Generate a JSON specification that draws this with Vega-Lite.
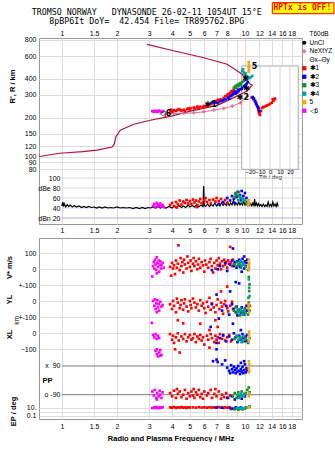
{
"$schema":"https://vega.github.io/schema/vega-lite/v6.json",
"background":"white",
"padding":{"left":4,"top":1,"right":0,"bottom":0},
"autosize":{"type":"pad"},
"title":{"text":["TROMSO NORWAY\u00a0\u00a0\u00a0DYNASONDE 26-02-11 1054UT 15°E","8pBP6It DoY=\u00a0\u00a042.454 File= TR895762.BPG"],"font":"DejaVu Sans Mono","fontSize":8.3,"fontWeight":"normal","color":"#000000","lineHeight":9,"anchor":"middle","offset":0,"dy":24,"dx":-23},
"spacing":14,
"bounds":"flush",
"datasets":{
"prof":[{"o":1,"f":0.75,"h":100},{"o":2,"f":0.975,"h":106},{"o":3,"f":1.3,"h":109},{"o":4,"f":1.555,"h":112},{"o":5,"f":1.88,"h":118.5},{"o":6,"f":1.93,"h":124},{"o":7,"f":1.95,"h":132},{"o":8,"f":1.97,"h":142},{"o":9,"f":2.085,"h":160},{"o":10,"f":2.47,"h":178},{"o":11,"f":3.04,"h":191},{"o":12,"f":3.91,"h":205},{"o":13,"f":5.04,"h":225},{"o":14,"f":7.05,"h":249},{"o":15,"f":8.7,"h":286},{"o":16,"f":10.3,"h":322},{"o":17,"f":10.96,"h":358},{"o":18,"f":10.7,"h":363},{"o":19,"f":9.67,"h":434},{"o":20,"f":8.0,"h":519},{"o":21,"f":5.96,"h":583},{"o":22,"f":3.91,"h":669},{"o":23,"f":2.92,"h":740}],
"nx":[{"f":3.68,"h":212},{"f":4.08,"h":216},{"f":4.63,"h":216},{"f":5.25,"h":218},{"f":5.96,"h":222},{"f":6.76,"h":229},{"f":7.67,"h":236},{"f":8.52,"h":246},{"f":9.46,"h":261},{"f":10.3,"h":294}],
"lb":[{"f":6.5,"h":250,"t":"✱1"},{"f":9.75,"h":286,"t":"✱2"},{"f":11.3,"h":496,"t":"5"},{"f":3.68,"h":214,"t":"◁6"},{"f":10.08,"h":399,"t":"✱"},{"f":10.2,"h":334,"t":"✱"}],
"hp":[{"s":"1","f":3.92,"h":225},{"s":"1","f":4.08,"h":228},{"s":"1","f":4.26,"h":229},{"s":"1","f":4.44,"h":230},{"s":"1","f":4.63,"h":230},{"s":"1","f":4.83,"h":233},{"s":"1","f":5.04,"h":237},{"s":"1","f":5.25,"h":240},{"s":"1","f":5.47,"h":240},{"s":"1","f":5.71,"h":243},{"s":"1","f":5.96,"h":246},{"s":"1","f":6.2,"h":250},{"s":"1","f":6.48,"h":255},{"s":"1","f":6.76,"h":263},{"s":"1","f":6.9,"h":269},{"s":"1","f":7.2,"h":266},{"s":"1","f":7.35,"h":277},{"s":"1","f":7.52,"h":269},{"s":"1","f":7.67,"h":285},{"s":"1","f":7.83,"h":294},{"s":"1","f":8.06,"h":304},{"s":"1","f":8.27,"h":309},{"s":"1","f":8.4,"h":318},{"s":"1","f":8.6,"h":313},{"s":"1","f":8.88,"h":308},{"s":"1","f":9.07,"h":322},{"s":"1","f":4.0,"h":222},{"s":"1","f":4.2,"h":226},{"s":"1","f":4.5,"h":227},{"s":"1","f":4.7,"h":226},{"s":"1","f":5.0,"h":232},{"s":"1","f":5.3,"h":236},{"s":"1","f":5.6,"h":237},{"s":"1","f":5.9,"h":240},{"s":"1","f":6.1,"h":244},{"s":"1","f":6.6,"h":258},{"s":"1","f":7.0,"h":262},{"s":"1","f":7.4,"h":272},{"s":"1","f":7.7,"h":280},{"s":"1","f":8.0,"h":296},{"s":"1","f":8.3,"h":300},{"s":"1","f":8.5,"h":322},{"s":"1","f":3.95,"h":230},{"s":"1","f":4.35,"h":233},{"s":"1","f":4.9,"h":236},{"s":"1","f":5.5,"h":244},{"s":"1","f":6.3,"h":253},{"s":"1","f":7.1,"h":275},{"s":"1","f":8.7,"h":330},{"s":"1","f":8.15,"h":290},
{"s":"2","f":6.9,"h":263},{"s":"2","f":7.11,"h":259},{"s":"2","f":7.35,"h":269},{"s":"2","f":7.83,"h":277},{"s":"2","f":8.06,"h":285},{"s":"2","f":8.34,"h":294},{"s":"2","f":8.6,"h":304},{"s":"2","f":8.88,"h":308},{"s":"2","f":9.07,"h":313},{"s":"2","f":9.26,"h":322},{"s":"2","f":9.46,"h":332},{"s":"2","f":9.66,"h":342},{"s":"2","f":9.88,"h":352},{"s":"2","f":10.08,"h":358},{"s":"2","f":10.2,"h":365},{"s":"2","f":10.35,"h":378},{"s":"2","f":6.6,"h":262},{"s":"2","f":7.6,"h":273},{"s":"2","f":8.2,"h":280},{"s":"2","f":8.5,"h":298},{"s":"2","f":9.2,"h":330},{"s":"2","f":9.6,"h":335},{"s":"2","f":10.0,"h":345},{"s":"2","f":8.8,"h":318},
{"s":"3","f":8.7,"h":342},{"s":"3","f":8.88,"h":352},{"s":"3","f":9.07,"h":358},{"s":"3","f":9.26,"h":365},{"s":"3","f":9.46,"h":371},{"s":"3","f":9.66,"h":378},{"s":"3","f":9.88,"h":386},{"s":"3","f":9.37,"h":358},{"s":"3","f":8.9,"h":340},{"s":"3","f":9.2,"h":350},{"s":"3","f":9.5,"h":362},
{"s":"4","f":9.66,"h":460},{"s":"4","f":9.88,"h":448},{"s":"4","f":9.96,"h":430},{"s":"4","f":10.2,"h":421},{"s":"4","f":10.35,"h":414},{"s":"4","f":10.73,"h":410},{"s":"4","f":10.96,"h":421},{"s":"4","f":9.77,"h":474},{"s":"4","f":10.1,"h":440},{"s":"4","f":10.5,"h":405},
{"s":"5","f":10.5,"h":540},{"s":"5","f":10.5,"h":515},{"s":"5","f":10.52,"h":490},{"s":"5","f":10.5,"h":470},{"s":"5","f":10.48,"h":455},
{"s":"6","f":3.12,"h":225},{"s":"6","f":3.17,"h":222},{"s":"6","f":3.22,"h":226},{"s":"6","f":3.27,"h":224},{"s":"6","f":3.33,"h":222},{"s":"6","f":3.38,"h":227},{"s":"6","f":3.45,"h":224},{"s":"6","f":3.5,"h":222},{"s":"6","f":3.58,"h":225}],
"tl":[{"s":"1","t":-18.3,"h":286},{"s":"1","t":-16.7,"h":278},{"s":"1","t":-15,"h":269},{"s":"1","t":-14,"h":256},{"s":"1","t":-12.7,"h":246},{"s":"1","t":-11.7,"h":232},{"s":"1","t":-11,"h":218},{"s":"1","t":-10,"h":210},{"s":"1","t":-9,"h":225},{"s":"1","t":-8,"h":238},{"s":"1","t":-6.7,"h":242},{"s":"1","t":-5,"h":244},{"s":"1","t":-3.3,"h":248},{"s":"1","t":-1.7,"h":251},{"s":"1","t":0,"h":256},{"s":"1","t":1.7,"h":261},{"s":"1","t":3.3,"h":269},{"s":"1","t":4.3,"h":278},{"s":"1","t":5,"h":281},{"s":"1","t":2.7,"h":278},{"s":"1","t":-10.5,"h":214},{"s":"1","t":-11.3,"h":225},
{"s":"2","t":-17.3,"h":289},{"s":"2","t":-16,"h":281},{"s":"2","t":-15,"h":269},{"s":"2","t":-14,"h":261},{"s":"2","t":-13.3,"h":251},{"s":"2","t":-12.3,"h":242},{"s":"2","t":-11.3,"h":238},{"s":"2","t":-10.7,"h":225}],
"am":[{"s":"6","f":3.15,"db":44},{"s":"6","f":3.2,"db":48},{"s":"6","f":3.25,"db":42},{"s":"6","f":3.3,"db":50},{"s":"6","f":3.35,"db":46},{"s":"6","f":3.4,"db":44},{"s":"6","f":3.45,"db":49},{"s":"6","f":3.5,"db":43},{"s":"6","f":3.55,"db":46},{"s":"6","f":3.6,"db":42},
{"s":"1","f":3.9,"db":46},{"s":"1","f":4.0,"db":50},{"s":"1","f":4.1,"db":44},{"s":"1","f":4.2,"db":52},{"s":"1","f":4.3,"db":48},{"s":"1","f":4.4,"db":55},{"s":"1","f":4.5,"db":47},{"s":"1","f":4.6,"db":53},{"s":"1","f":4.7,"db":50},{"s":"1","f":4.8,"db":56},{"s":"1","f":4.9,"db":49},{"s":"1","f":5.0,"db":54},{"s":"1","f":5.1,"db":48},{"s":"1","f":5.2,"db":57},{"s":"1","f":5.3,"db":51},{"s":"1","f":5.4,"db":55},{"s":"1","f":5.5,"db":46},{"s":"1","f":5.6,"db":53},{"s":"1","f":5.7,"db":58},{"s":"1","f":5.8,"db":50},{"s":"1","f":6.0,"db":55},{"s":"1","f":6.1,"db":60},{"s":"1","f":6.2,"db":52},{"s":"1","f":6.4,"db":56},{"s":"1","f":6.5,"db":49},{"s":"1","f":6.7,"db":57},{"s":"1","f":6.9,"db":53},{"s":"1","f":7.0,"db":60},{"s":"1","f":7.2,"db":54},{"s":"1","f":7.4,"db":58},{"s":"1","f":7.6,"db":51},{"s":"1","f":7.8,"db":56},{"s":"1","f":8.0,"db":50},{"s":"1","f":5.45,"db":42},{"s":"1","f":4.25,"db":41},
{"s":"2","f":7.2,"db":48},{"s":"2","f":7.6,"db":52},{"s":"2","f":8.0,"db":60},{"s":"2","f":8.3,"db":55},{"s":"2","f":8.5,"db":64},{"s":"2","f":8.7,"db":58},{"s":"2","f":8.9,"db":68},{"s":"2","f":9.0,"db":62},{"s":"2","f":9.2,"db":72},{"s":"2","f":9.4,"db":66},{"s":"2","f":9.6,"db":74},{"s":"2","f":9.8,"db":64},{"s":"2","f":10.0,"db":70},{"s":"2","f":10.2,"db":60},{"s":"2","f":9.5,"db":56},{"s":"2","f":10.3,"db":52},{"s":"2","f":8.8,"db":50},
{"s":"3","f":8.8,"db":62},{"s":"3","f":8.9,"db":70},{"s":"3","f":9.0,"db":66},{"s":"3","f":9.1,"db":72},{"s":"3","f":9.3,"db":64},{"s":"3","f":9.5,"db":60},{"s":"3","f":9.7,"db":58},
{"s":"4","f":9.2,"db":56},{"s":"4","f":9.4,"db":62},{"s":"4","f":9.6,"db":52},{"s":"4","f":9.8,"db":58},{"s":"4","f":10.0,"db":55},{"s":"4","f":10.2,"db":50},{"s":"4","f":10.4,"db":48},
{"s":"5","f":10.4,"db":46},{"s":"5","f":10.45,"db":52},{"s":"5","f":10.5,"db":56},{"s":"5","f":10.55,"db":48}],
"tr":[{"f":1.0,"db":44},{"f":1.01,"db":52},{"f":1.02,"db":43},{"f":1.03,"db":49},{"f":1.05,"db":42},{"f":1.07,"db":47},{"f":1.09,"db":43},{"f":1.11,"db":46},{"f":1.14,"db":42},{"f":1.17,"db":45},{"f":1.2,"db":42},{"f":1.24,"db":44},{"f":1.28,"db":41},{"f":1.32,"db":43},{"f":1.36,"db":41},{"f":1.4,"db":43},{"f":1.45,"db":41},{"f":1.5,"db":42},{"f":1.55,"db":40},{"f":1.6,"db":42},{"f":1.66,"db":40},{"f":1.72,"db":42},{"f":1.78,"db":40},{"f":1.85,"db":41},{"f":1.92,"db":40},{"f":2.0,"db":42},{"f":2.08,"db":40},{"f":2.16,"db":41},{"f":2.25,"db":40},{"f":2.35,"db":41},{"f":2.45,"db":39},{"f":2.55,"db":41},{"f":2.65,"db":39},{"f":2.75,"db":41},{"f":2.85,"db":39},{"f":2.95,"db":41},{"f":3.05,"db":40},{"f":3.15,"db":42},{"f":3.25,"db":40},{"f":3.35,"db":43},{"f":3.45,"db":40},{"f":3.55,"db":42},{"f":3.7,"db":40},{"f":3.85,"db":43},{"f":4.0,"db":40},{"f":4.1,"db":44},{"f":4.2,"db":41},{"f":4.35,"db":45},{"f":4.5,"db":41},{"f":4.6,"db":44},{"f":4.75,"db":41},{"f":4.9,"db":46},{"f":5.0,"db":42},{"f":5.15,"db":45},{"f":5.3,"db":42},{"f":5.45,"db":47},{"f":5.6,"db":42},{"f":5.75,"db":46},{"f":5.9,"db":43},{"f":5.95,"db":84},{"f":6.0,"db":45},{"f":6.1,"db":43},{"f":6.25,"db":48},{"f":6.4,"db":43},{"f":6.55,"db":47},{"f":6.7,"db":44},{"f":6.85,"db":50},{"f":7.0,"db":44},{"f":7.15,"db":48},{"f":7.3,"db":44},{"f":7.45,"db":51},{"f":7.6,"db":45},{"f":7.75,"db":49},{"f":7.9,"db":45},{"f":8.05,"db":52},{"f":8.2,"db":45},{"f":8.35,"db":50},{"f":8.5,"db":46},{"f":8.65,"db":55},{"f":8.8,"db":46},{"f":8.95,"db":50},{"f":9.1,"db":46},{"f":9.25,"db":52},{"f":9.4,"db":46},{"f":9.55,"db":50},{"f":9.7,"db":46},{"f":9.85,"db":53},{"f":10.0,"db":46},{"f":10.15,"db":50},{"f":10.3,"db":45},{"f":10.45,"db":51},{"f":10.6,"db":45},{"f":10.75,"db":49},{"f":10.9,"db":44},{"f":11.05,"db":50},{"f":11.2,"db":45},{"f":11.3,"db":58},{"f":11.4,"db":44},{"f":11.55,"db":50},{"f":11.7,"db":44},{"f":11.85,"db":49},{"f":12.0,"db":44},{"f":12.2,"db":47},{"f":12.4,"db":43},{"f":12.6,"db":48},{"f":12.8,"db":43},{"f":13.0,"db":46},{"f":13.2,"db":43},{"f":13.4,"db":52},{"f":13.6,"db":43},{"f":13.8,"db":47},{"f":14.0,"db":43},{"f":14.2,"db":52},{"f":14.4,"db":44},{"f":14.6,"db":48},{"f":14.8,"db":43},{"f":15.0,"db":50},{"f":15.2,"db":43}],
"bt":[
{"b":"V","s":"6","f":3.12,"v":-45},{"b":"V","s":"6","f":3.15,"v":20},{"b":"V","s":"6","f":3.18,"v":45},{"b":"V","s":"6","f":3.2,"v":5},{"b":"V","s":"6","f":3.22,"v":60},{"b":"V","s":"6","f":3.25,"v":30},{"b":"V","s":"6","f":3.28,"v":-5},{"b":"V","s":"6","f":3.3,"v":75},{"b":"V","s":"6","f":3.32,"v":40},{"b":"V","s":"6","f":3.35,"v":15},{"b":"V","s":"6","f":3.38,"v":55},{"b":"V","s":"6","f":3.4,"v":-15},{"b":"V","s":"6","f":3.42,"v":30},{"b":"V","s":"6","f":3.45,"v":50},{"b":"V","s":"6","f":3.48,"v":5},{"b":"V","s":"6","f":3.5,"v":25},{"b":"V","s":"6","f":3.55,"v":40},{"b":"V","s":"6","f":3.6,"v":10},{"b":"V","s":"6","f":3.3,"v":-25},
{"b":"V","s":"1","f":3.9,"v":15},{"b":"V","s":"1","f":3.95,"v":-40},{"b":"V","s":"1","f":4.0,"v":40},{"b":"V","s":"1","f":4.05,"v":5},{"b":"V","s":"1","f":4.1,"v":25},{"b":"V","s":"1","f":4.15,"v":-30},{"b":"V","s":"1","f":4.2,"v":55},{"b":"V","s":"1","f":4.25,"v":10},{"b":"V","s":"1","f":4.33,"v":150},{"b":"V","s":"1","f":4.3,"v":35},{"b":"V","s":"1","f":4.4,"v":-5},{"b":"V","s":"1","f":4.45,"v":70},{"b":"V","s":"1","f":4.5,"v":20},{"b":"V","s":"1","f":4.55,"v":45},{"b":"V","s":"1","f":4.6,"v":-20},{"b":"V","s":"1","f":4.65,"v":60},{"b":"V","s":"1","f":4.7,"v":30},{"b":"V","s":"1","f":4.8,"v":5},{"b":"V","s":"1","f":4.85,"v":80},{"b":"V","s":"1","f":4.9,"v":40},{"b":"V","s":"1","f":5.0,"v":15},{"b":"V","s":"1","f":5.05,"v":55},{"b":"V","s":"1","f":5.1,"v":-10},{"b":"V","s":"1","f":5.2,"v":35},{"b":"V","s":"1","f":5.25,"v":70},{"b":"V","s":"1","f":5.3,"v":20},{"b":"V","s":"1","f":5.4,"v":50},{"b":"V","s":"1","f":5.5,"v":0},{"b":"V","s":"1","f":5.55,"v":30},{"b":"V","s":"1","f":5.6,"v":65},{"b":"V","s":"1","f":5.7,"v":10},{"b":"V","s":"1","f":5.8,"v":45},{"b":"V","s":"1","f":5.9,"v":25},{"b":"V","s":"1","f":6.0,"v":-15},{"b":"V","s":"1","f":6.05,"v":55},{"b":"V","s":"1","f":6.15,"v":30},{"b":"V","s":"1","f":6.3,"v":10},{"b":"V","s":"1","f":6.4,"v":45},{"b":"V","s":"1","f":6.5,"v":65},{"b":"V","s":"1","f":6.6,"v":20},{"b":"V","s":"1","f":6.7,"v":-20},{"b":"V","s":"1","f":6.8,"v":40},{"b":"V","s":"1","f":6.9,"v":5},{"b":"V","s":"1","f":7.0,"v":55},{"b":"V","s":"1","f":7.1,"v":25},{"b":"V","s":"1","f":7.2,"v":70},{"b":"V","s":"1","f":7.3,"v":35},{"b":"V","s":"1","f":7.4,"v":0},{"b":"V","s":"1","f":7.5,"v":50},{"b":"V","s":"1","f":7.6,"v":20},{"b":"V","s":"1","f":7.7,"v":60},{"b":"V","s":"1","f":7.8,"v":30},{"b":"V","s":"1","f":7.9,"v":45},{"b":"V","s":"1","f":8.0,"v":10},{"b":"V","s":"1","f":8.1,"v":55},{"b":"V","s":"1","f":8.2,"v":35},{"b":"V","s":"1","f":8.3,"v":140},{"b":"V","s":"1","f":8.4,"v":45},{"b":"V","s":"1","f":8.5,"v":20},{"b":"V","s":"1","f":8.6,"v":60},{"b":"V","s":"1","f":8.7,"v":30},
{"b":"V","s":"2","f":6.6,"v":-5},{"b":"V","s":"2","f":7.1,"v":0},{"b":"V","s":"2","f":7.3,"v":20},{"b":"V","s":"2","f":7.8,"v":40},{"b":"V","s":"2","f":8.0,"v":-10},{"b":"V","s":"2","f":8.3,"v":30},{"b":"V","s":"2","f":8.5,"v":55},{"b":"V","s":"2","f":8.7,"v":20},{"b":"V","s":"2","f":8.8,"v":45},{"b":"V","s":"2","f":8.9,"v":-80},{"b":"V","s":"2","f":9.0,"v":10},{"b":"V","s":"2","f":9.1,"v":50},{"b":"V","s":"2","f":9.2,"v":30},{"b":"V","s":"2","f":9.3,"v":60},{"b":"V","s":"2","f":9.4,"v":15},{"b":"V","s":"2","f":9.5,"v":45},{"b":"V","s":"2","f":9.6,"v":25},{"b":"V","s":"2","f":9.7,"v":65},{"b":"V","s":"2","f":9.8,"v":35},{"b":"V","s":"2","f":9.9,"v":5},{"b":"V","s":"2","f":10.0,"v":50},{"b":"V","s":"2","f":10.1,"v":20},{"b":"V","s":"2","f":10.2,"v":40},{"b":"V","s":"2","f":10.3,"v":60},{"b":"V","s":"2","f":9.6,"v":-15},{"b":"V","s":"2","f":9.9,"v":80},{"b":"V","s":"2","f":8.6,"v":130},
{"b":"V","s":"3","f":8.8,"v":30},{"b":"V","s":"3","f":9.0,"v":45},{"b":"V","s":"3","f":9.1,"v":20},{"b":"V","s":"3","f":9.3,"v":40},{"b":"V","s":"3","f":9.5,"v":10},{"b":"V","s":"3","f":9.8,"v":30},{"b":"V","s":"3","f":10.4,"v":-5},
{"b":"V","s":"4","f":9.2,"v":35},{"b":"V","s":"4","f":9.4,"v":50},{"b":"V","s":"4","f":9.6,"v":25},{"b":"V","s":"4","f":9.7,"v":45},{"b":"V","s":"4","f":9.9,"v":30},{"b":"V","s":"4","f":10.1,"v":15},
{"b":"V","s":"5","f":10.5,"v":0},{"b":"V","s":"5","f":10.5,"v":20},{"b":"V","s":"5","f":10.55,"v":40},{"b":"V","s":"5","f":10.5,"v":60},{"b":"V","s":"5","f":10.55,"v":10},{"b":"V","s":"5","f":10.5,"v":30},
{"b":"Y","s":"6","f":3.15,"v":0},{"b":"Y","s":"6","f":3.2,"v":-30},{"b":"Y","s":"6","f":3.22,"v":10},{"b":"Y","s":"6","f":3.25,"v":-50},{"b":"Y","s":"6","f":3.28,"v":-15},{"b":"Y","s":"6","f":3.3,"v":-70},{"b":"Y","s":"6","f":3.32,"v":5},{"b":"Y","s":"6","f":3.35,"v":-40},{"b":"Y","s":"6","f":3.38,"v":-20},{"b":"Y","s":"6","f":3.4,"v":-60},{"b":"Y","s":"6","f":3.45,"v":-5},{"b":"Y","s":"6","f":3.5,"v":-35},{"b":"Y","s":"6","f":3.55,"v":-25},
{"b":"Y","s":"1","f":3.9,"v":-20},{"b":"Y","s":"1","f":4.0,"v":-50},{"b":"Y","s":"1","f":4.05,"v":0},{"b":"Y","s":"1","f":4.1,"v":-30},{"b":"Y","s":"1","f":4.2,"v":-70},{"b":"Y","s":"1","f":4.25,"v":15},{"b":"Y","s":"1","f":4.3,"v":-10},{"b":"Y","s":"1","f":4.4,"v":-45},{"b":"Y","s":"1","f":4.45,"v":-25},{"b":"Y","s":"1","f":4.5,"v":5},{"b":"Y","s":"1","f":4.6,"v":-55},{"b":"Y","s":"1","f":4.65,"v":-15},{"b":"Y","s":"1","f":4.7,"v":10},{"b":"Y","s":"1","f":4.8,"v":-35},{"b":"Y","s":"1","f":4.9,"v":-65},{"b":"Y","s":"1","f":5.0,"v":0},{"b":"Y","s":"1","f":5.05,"v":-25},{"b":"Y","s":"1","f":5.1,"v":-45},{"b":"Y","s":"1","f":5.2,"v":15},{"b":"Y","s":"1","f":5.3,"v":-10},{"b":"Y","s":"1","f":5.4,"v":-40},{"b":"Y","s":"1","f":5.5,"v":-20},{"b":"Y","s":"1","f":5.6,"v":-60},{"b":"Y","s":"1","f":5.7,"v":5},{"b":"Y","s":"1","f":5.8,"v":-30},{"b":"Y","s":"1","f":5.9,"v":-15},{"b":"Y","s":"1","f":6.0,"v":-45},{"b":"Y","s":"1","f":6.1,"v":-75},{"b":"Y","s":"1","f":4.3,"v":-120},{"b":"Y","s":"1","f":4.6,"v":-140},{"b":"Y","s":"1","f":6.2,"v":-5},{"b":"Y","s":"1","f":6.3,"v":-35},{"b":"Y","s":"1","f":6.4,"v":20},{"b":"Y","s":"1","f":6.5,"v":-55},{"b":"Y","s":"1","f":6.6,"v":-15},{"b":"Y","s":"1","f":6.75,"v":-40},{"b":"Y","s":"1","f":6.9,"v":-70},{"b":"Y","s":"1","f":7.0,"v":-25},{"b":"Y","s":"1","f":7.1,"v":10},{"b":"Y","s":"1","f":7.25,"v":-50},{"b":"Y","s":"1","f":7.4,"v":-10},{"b":"Y","s":"1","f":7.5,"v":-35},{"b":"Y","s":"1","f":7.6,"v":-80},{"b":"Y","s":"1","f":7.7,"v":-20},{"b":"Y","s":"1","f":7.8,"v":0},{"b":"Y","s":"1","f":8.0,"v":-45},{"b":"Y","s":"1","f":8.1,"v":-65},{"b":"Y","s":"1","f":8.3,"v":-30},{"b":"Y","s":"1","f":8.5,"v":-5},{"b":"Y","s":"1","f":8.6,"v":-50},{"b":"Y","s":"1","f":6.9,"v":-120},{"b":"Y","s":"1","f":7.4,"v":60},{"b":"Y","s":"1","f":8.0,"v":90},
{"b":"Y","s":"2","f":6.6,"v":-20},{"b":"Y","s":"2","f":7.0,"v":40},{"b":"Y","s":"2","f":7.2,"v":-110},{"b":"Y","s":"2","f":7.5,"v":-60},{"b":"Y","s":"2","f":7.9,"v":-30},{"b":"Y","s":"2","f":8.2,"v":-85},{"b":"Y","s":"2","f":8.5,"v":-20},{"b":"Y","s":"2","f":8.7,"v":-50},{"b":"Y","s":"2","f":8.9,"v":-70},{"b":"Y","s":"2","f":9.0,"v":-35},{"b":"Y","s":"2","f":9.1,"v":-90},{"b":"Y","s":"2","f":9.3,"v":-55},{"b":"Y","s":"2","f":9.5,"v":-75},{"b":"Y","s":"2","f":9.6,"v":-40},{"b":"Y","s":"2","f":9.8,"v":-65},{"b":"Y","s":"2","f":9.9,"v":-85},{"b":"Y","s":"2","f":10.0,"v":-50},{"b":"Y","s":"2","f":10.1,"v":-70},{"b":"Y","s":"2","f":10.2,"v":-30},{"b":"Y","s":"2","f":10.3,"v":-60},{"b":"Y","s":"2","f":9.3,"v":110},{"b":"Y","s":"2","f":8.3,"v":60},
{"b":"Y","s":"3","f":8.7,"v":-60},{"b":"Y","s":"3","f":8.9,"v":-40},{"b":"Y","s":"3","f":9.0,"v":-75},{"b":"Y","s":"3","f":9.2,"v":-55},{"b":"Y","s":"3","f":9.4,"v":-90},{"b":"Y","s":"3","f":9.6,"v":-65},{"b":"Y","s":"3","f":9.8,"v":-80},{"b":"Y","s":"3","f":10.0,"v":-45},{"b":"Y","s":"3","f":10.4,"v":-85},{"b":"Y","s":"3","f":10.5,"v":150},{"b":"Y","s":"3","f":10.6,"v":104},{"b":"Y","s":"3","f":10.55,"v":62},{"b":"Y","s":"3","f":10.5,"v":-10},{"b":"Y","s":"3","f":10.6,"v":-60},{"b":"Y","s":"3","f":10.65,"v":-30},{"b":"Y","s":"3","f":10.45,"v":20},
{"b":"Y","s":"4","f":9.1,"v":-60},{"b":"Y","s":"4","f":9.3,"v":-70},{"b":"Y","s":"4","f":9.5,"v":-50},{"b":"Y","s":"4","f":9.7,"v":-85},{"b":"Y","s":"4","f":9.9,"v":-60},{"b":"Y","s":"4","f":10.1,"v":-75},{"b":"Y","s":"4","f":10.5,"v":135},{"b":"Y","s":"4","f":10.55,"v":83},{"b":"Y","s":"4","f":10.6,"v":31},{"b":"Y","s":"4","f":10.5,"v":-40},
{"b":"Y","s":"5","f":10.5,"v":-20},{"b":"Y","s":"5","f":10.5,"v":-50},{"b":"Y","s":"5","f":10.55,"v":-70},{"b":"Y","s":"5","f":10.5,"v":-35},
{"b":"X","s":"6","f":3.1,"v":65},{"b":"X","s":"6","f":3.15,"v":-10},{"b":"X","s":"6","f":3.2,"v":-25},{"b":"X","s":"6","f":3.25,"v":-5},{"b":"X","s":"6","f":3.3,"v":-35},{"b":"X","s":"6","f":3.35,"v":-15},{"b":"X","s":"6","f":3.4,"v":-30},{"b":"X","s":"6","f":3.25,"v":-110},{"b":"X","s":"6","f":3.3,"v":-130},{"b":"X","s":"6","f":3.35,"v":-145},{"b":"X","s":"6","f":3.4,"v":-120},{"b":"X","s":"6","f":3.45,"v":-105},{"b":"X","s":"6","f":3.3,"v":-100},{"b":"X","s":"6","f":3.5,"v":-135},{"b":"X","s":"6","f":3.45,"v":-140},
{"b":"X","s":"1","f":3.9,"v":-5},{"b":"X","s":"1","f":4.0,"v":-40},{"b":"X","s":"1","f":4.05,"v":-15},{"b":"X","s":"1","f":4.1,"v":-60},{"b":"X","s":"1","f":4.15,"v":-100},{"b":"X","s":"1","f":4.2,"v":-25},{"b":"X","s":"1","f":4.3,"v":0},{"b":"X","s":"1","f":4.35,"v":-45},{"b":"X","s":"1","f":4.4,"v":-120},{"b":"X","s":"1","f":4.5,"v":-20},{"b":"X","s":"1","f":4.6,"v":-35},{"b":"X","s":"1","f":4.7,"v":-5},{"b":"X","s":"1","f":4.8,"v":-50},{"b":"X","s":"1","f":4.9,"v":-25},{"b":"X","s":"1","f":5.0,"v":-10},{"b":"X","s":"1","f":5.1,"v":-40},{"b":"X","s":"1","f":5.2,"v":-30},{"b":"X","s":"1","f":5.3,"v":-5},{"b":"X","s":"1","f":5.4,"v":-55},{"b":"X","s":"1","f":5.5,"v":-20},{"b":"X","s":"1","f":5.6,"v":-35},{"b":"X","s":"1","f":5.7,"v":-10},{"b":"X","s":"1","f":5.8,"v":-45},{"b":"X","s":"1","f":5.9,"v":-25},{"b":"X","s":"1","f":6.0,"v":-70},{"b":"X","s":"1","f":6.2,"v":-15},{"b":"X","s":"1","f":6.3,"v":-40},{"b":"X","s":"1","f":6.4,"v":-90},{"b":"X","s":"1","f":6.5,"v":-5},{"b":"X","s":"1","f":6.6,"v":-30},{"b":"X","s":"1","f":6.8,"v":-55},{"b":"X","s":"1","f":6.9,"v":-15},{"b":"X","s":"1","f":7.0,"v":-40},{"b":"X","s":"1","f":7.1,"v":-25},{"b":"X","s":"1","f":7.2,"v":-60},{"b":"X","s":"1","f":7.3,"v":-5},{"b":"X","s":"1","f":7.5,"v":-35},{"b":"X","s":"1","f":7.6,"v":-15},{"b":"X","s":"1","f":7.8,"v":-45},{"b":"X","s":"1","f":8.0,"v":-25},{"b":"X","s":"1","f":8.2,"v":-10},{"b":"X","s":"1","f":8.4,"v":-50},{"b":"X","s":"1","f":6.4,"v":20},{"b":"X","s":"1","f":7.1,"v":40},{"b":"X","s":"1","f":5.7,"v":60},
{"b":"X","s":"2","f":6.5,"v":40},{"b":"X","s":"2","f":7.0,"v":-60},{"b":"X","s":"2","f":7.3,"v":-30},{"b":"X","s":"2","f":7.6,"v":-10},{"b":"X","s":"2","f":7.9,"v":-50},{"b":"X","s":"2","f":8.2,"v":-20},{"b":"X","s":"2","f":8.5,"v":-40},{"b":"X","s":"2","f":8.7,"v":0},{"b":"X","s":"2","f":8.9,"v":-25},{"b":"X","s":"2","f":9.1,"v":-55},{"b":"X","s":"2","f":9.3,"v":-15},{"b":"X","s":"2","f":9.5,"v":-40},{"b":"X","s":"2","f":9.7,"v":-5},{"b":"X","s":"2","f":9.8,"v":-30},{"b":"X","s":"2","f":10.0,"v":-50},{"b":"X","s":"2","f":10.1,"v":-20},{"b":"X","s":"2","f":10.2,"v":-45},{"b":"X","s":"2","f":10.3,"v":-10},{"b":"X","s":"2","f":8.6,"v":60},{"b":"X","s":"2","f":9.5,"v":20},{"b":"X","s":"2","f":7.0,"v":-100},
{"b":"X","s":"3","f":8.8,"v":-35},{"b":"X","s":"3","f":9.0,"v":-15},{"b":"X","s":"3","f":9.2,"v":-45},{"b":"X","s":"3","f":9.4,"v":-25},{"b":"X","s":"3","f":9.6,"v":-55},{"b":"X","s":"3","f":9.8,"v":-20},{"b":"X","s":"3","f":10.0,"v":-40},{"b":"X","s":"3","f":10.4,"v":-60},{"b":"X","s":"3","f":10.6,"v":-30},
{"b":"X","s":"4","f":9.1,"v":-20},{"b":"X","s":"4","f":9.3,"v":-40},{"b":"X","s":"4","f":9.5,"v":-30},{"b":"X","s":"4","f":9.7,"v":-50},{"b":"X","s":"4","f":9.9,"v":-15},{"b":"X","s":"4","f":10.1,"v":-35},
{"b":"X","s":"5","f":10.5,"v":-10},{"b":"X","s":"5","f":10.5,"v":-30},{"b":"X","s":"5","f":10.55,"v":10},{"b":"X","s":"5","f":10.5,"v":-50},
{"b":"P","s":"2","f":6.7,"v":120},{"b":"P","s":"2","f":7.0,"v":130},{"b":"P","s":"2","f":7.1,"v":115},{"b":"P","s":"2","f":7.5,"v":100},{"b":"P","s":"2","f":7.8,"v":125},{"b":"P","s":"2","f":8.0,"v":80},{"b":"P","s":"2","f":8.2,"v":60},{"b":"P","s":"2","f":8.4,"v":95},{"b":"P","s":"2","f":8.5,"v":70},{"b":"P","s":"2","f":8.6,"v":50},{"b":"P","s":"2","f":8.7,"v":85},{"b":"P","s":"2","f":8.8,"v":65},{"b":"P","s":"2","f":8.9,"v":45},{"b":"P","s":"2","f":9.0,"v":75},{"b":"P","s":"2","f":9.1,"v":55},{"b":"P","s":"2","f":9.2,"v":90},{"b":"P","s":"2","f":9.3,"v":60},{"b":"P","s":"2","f":9.4,"v":40},{"b":"P","s":"2","f":9.5,"v":70},{"b":"P","s":"2","f":9.6,"v":55},{"b":"P","s":"2","f":9.7,"v":85},{"b":"P","s":"2","f":9.8,"v":45},{"b":"P","s":"2","f":9.9,"v":65},{"b":"P","s":"2","f":10.0,"v":100},{"b":"P","s":"2","f":10.1,"v":50},{"b":"P","s":"2","f":10.2,"v":75},{"b":"P","s":"2","f":10.3,"v":60},{"b":"P","s":"2","f":9.5,"v":110},{"b":"P","s":"2","f":9.9,"v":120},{"b":"P","s":"2","f":8.3,"v":45},
{"b":"P","s":"5","f":10.5,"v":50},{"b":"P","s":"5","f":10.5,"v":75},{"b":"P","s":"5","f":10.55,"v":100},{"b":"P","s":"5","f":10.5,"v":120},{"b":"P","s":"5","f":10.55,"v":60},
{"b":"P","s":"6","f":3.12,"v":-70},{"b":"P","s":"6","f":3.18,"v":-95},{"b":"P","s":"6","f":3.22,"v":-60},{"b":"P","s":"6","f":3.28,"v":-110},{"b":"P","s":"6","f":3.32,"v":-80},{"b":"P","s":"6","f":3.38,"v":-100},{"b":"P","s":"6","f":3.42,"v":-65},{"b":"P","s":"6","f":3.45,"v":-90},{"b":"P","s":"6","f":3.5,"v":-110},{"b":"P","s":"6","f":3.55,"v":-75},{"b":"P","s":"6","f":3.3,"v":-120},
{"b":"P","s":"1","f":3.9,"v":-80},{"b":"P","s":"1","f":4.0,"v":-100},{"b":"P","s":"1","f":4.1,"v":-65},{"b":"P","s":"1","f":4.2,"v":-110},{"b":"P","s":"1","f":4.3,"v":-85},{"b":"P","s":"1","f":4.4,"v":-70},{"b":"P","s":"1","f":4.5,"v":-105},{"b":"P","s":"1","f":4.6,"v":-90},{"b":"P","s":"1","f":4.7,"v":-60},{"b":"P","s":"1","f":4.8,"v":-115},{"b":"P","s":"1","f":4.9,"v":-80},{"b":"P","s":"1","f":5.0,"v":-100},{"b":"P","s":"1","f":5.1,"v":-70},{"b":"P","s":"1","f":5.2,"v":-95},{"b":"P","s":"1","f":5.3,"v":-110},{"b":"P","s":"1","f":5.4,"v":-75},{"b":"P","s":"1","f":5.5,"v":-90},{"b":"P","s":"1","f":5.6,"v":-60},{"b":"P","s":"1","f":5.7,"v":-105},{"b":"P","s":"1","f":5.8,"v":-85},{"b":"P","s":"1","f":5.9,"v":-115},{"b":"P","s":"1","f":6.0,"v":-70},{"b":"P","s":"1","f":6.2,"v":-95},{"b":"P","s":"1","f":6.3,"v":-80},{"b":"P","s":"1","f":6.5,"v":-60},{"b":"P","s":"1","f":6.6,"v":-110},{"b":"P","s":"1","f":6.8,"v":-85},{"b":"P","s":"1","f":7.0,"v":-100},{"b":"P","s":"1","f":7.2,"v":-70},{"b":"P","s":"1","f":7.4,"v":-115},{"b":"P","s":"1","f":7.5,"v":-90},{"b":"P","s":"1","f":7.7,"v":-105},{"b":"P","s":"1","f":7.9,"v":-80},{"b":"P","s":"1","f":8.1,"v":-110},{"b":"P","s":"1","f":8.3,"v":-95},{"b":"P","s":"1","f":4.25,"v":-55},{"b":"P","s":"1","f":5.25,"v":-55},{"b":"P","s":"1","f":6.9,"v":-55},
{"b":"P","s":"2","f":8.0,"v":-110},{"b":"P","s":"2","f":8.5,"v":-100},{"b":"P","s":"2","f":8.8,"v":-120},{"b":"P","s":"2","f":9.2,"v":-105},{"b":"P","s":"2","f":9.6,"v":-115},{"b":"P","s":"2","f":10.0,"v":-100},
{"b":"P","s":"3","f":8.6,"v":-100},{"b":"P","s":"3","f":8.8,"v":-80},{"b":"P","s":"3","f":9.0,"v":-110},{"b":"P","s":"3","f":9.2,"v":-75},{"b":"P","s":"3","f":9.4,"v":-95},{"b":"P","s":"3","f":9.6,"v":-70},{"b":"P","s":"3","f":9.9,"v":-85},{"b":"P","s":"3","f":10.3,"v":-60},{"b":"P","s":"3","f":10.5,"v":-45},{"b":"P","s":"3","f":10.6,"v":-75},
{"b":"P","s":"4","f":9.1,"v":-90},{"b":"P","s":"4","f":9.3,"v":-110},{"b":"P","s":"4","f":9.5,"v":-85},{"b":"P","s":"4","f":9.7,"v":-100},{"b":"P","s":"4","f":9.9,"v":-95},{"b":"P","s":"4","f":10.1,"v":-80},
{"b":"P","s":"5","f":10.5,"v":-100},{"b":"P","s":"5","f":10.5,"v":-80},
{"b":"E","s":"6","f":3.12,"v":8},{"b":"E","s":"6","f":3.2,"v":12},{"b":"E","s":"6","f":3.25,"v":9},{"b":"E","s":"6","f":3.3,"v":15},{"b":"E","s":"6","f":3.35,"v":10},{"b":"E","s":"6","f":3.4,"v":8},{"b":"E","s":"6","f":3.45,"v":12},{"b":"E","s":"6","f":3.5,"v":10},{"b":"E","s":"6","f":3.55,"v":14},
{"b":"E","s":"1","f":3.9,"v":12},{"b":"E","s":"1","f":4.0,"v":10},{"b":"E","s":"1","f":4.1,"v":15},{"b":"E","s":"1","f":4.2,"v":9},{"b":"E","s":"1","f":4.3,"v":12},{"b":"E","s":"1","f":4.4,"v":11},{"b":"E","s":"1","f":4.5,"v":14},{"b":"E","s":"1","f":4.6,"v":10},{"b":"E","s":"1","f":4.7,"v":12},{"b":"E","s":"1","f":4.8,"v":9},{"b":"E","s":"1","f":4.9,"v":13},{"b":"E","s":"1","f":5.0,"v":11},{"b":"E","s":"1","f":5.2,"v":12},{"b":"E","s":"1","f":5.4,"v":10},{"b":"E","s":"1","f":5.6,"v":14},{"b":"E","s":"1","f":5.8,"v":11},{"b":"E","s":"1","f":6.0,"v":12},{"b":"E","s":"1","f":6.2,"v":10},{"b":"E","s":"1","f":6.4,"v":13},{"b":"E","s":"1","f":6.6,"v":11},{"b":"E","s":"1","f":6.8,"v":12},{"b":"E","s":"1","f":7.0,"v":10},{"b":"E","s":"1","f":7.2,"v":14},{"b":"E","s":"1","f":7.4,"v":11},{"b":"E","s":"1","f":7.6,"v":9},{"b":"E","s":"1","f":7.8,"v":12},{"b":"E","s":"1","f":8.0,"v":10},{"b":"E","s":"1","f":8.2,"v":13},{"b":"E","s":"1","f":8.4,"v":5},
{"b":"E","s":"2","f":7.0,"v":12},{"b":"E","s":"2","f":7.5,"v":10},{"b":"E","s":"2","f":8.3,"v":9},{"b":"E","s":"2","f":8.6,"v":6},{"b":"E","s":"2","f":8.9,"v":12},{"b":"E","s":"2","f":9.2,"v":8},{"b":"E","s":"2","f":9.5,"v":11},{"b":"E","s":"2","f":9.8,"v":7},{"b":"E","s":"2","f":10.1,"v":10},
{"b":"E","s":"3","f":8.8,"v":4},{"b":"E","s":"3","f":9.0,"v":6},{"b":"E","s":"3","f":9.2,"v":3},{"b":"E","s":"3","f":9.4,"v":5},{"b":"E","s":"3","f":9.7,"v":4},{"b":"E","s":"3","f":10.0,"v":6},{"b":"E","s":"3","f":10.4,"v":12},{"b":"E","s":"3","f":10.6,"v":20},
{"b":"E","s":"4","f":9.1,"v":8},{"b":"E","s":"4","f":9.4,"v":6},{"b":"E","s":"4","f":9.6,"v":9},{"b":"E","s":"4","f":9.9,"v":7},{"b":"E","s":"4","f":10.2,"v":10},
{"b":"E","s":"5","f":10.5,"v":10},{"b":"E","s":"5","f":10.5,"v":14}]
},
"vconcat":[
{"width":263,"height":186,
 "resolve":{"scale":{"x":"independent","y":"independent"}},
 "layer":[
  {"layer":[
   {"data":{"values":[{}]},"mark":{"type":"rect","fill":"#ffffff","stroke":"#aaaaaa","strokeWidth":1},
    "encoding":{"x":{"datum":-28.3,"type":"quantitative","scale":{"domain":[-231,32],"nice":false,"zero":false}},"x2":{"datum":28.3},
     "y":{"datum":79.6,"type":"quantitative","scale":{"type":"log","domain":[30,829],"nice":false},"axis":null},"y2":{"datum":503}}},
   {"data":{"values":[{"t":-20},{"t":-10},{"t":0},{"t":10},{"t":20}]},"mark":{"type":"rule","color":"#d8d8d8"},
    "encoding":{"x":{"field":"t","type":"quantitative","scale":{"domain":[-231,32],"nice":false,"zero":false}},
     "y":{"datum":79.6,"type":"quantitative","scale":{"type":"log","domain":[30,829],"nice":false},"axis":null},"y2":{"datum":503}}},
   {"data":{"name":"tl"},"mark":{"type":"point","filled":true,"size":7,"opacity":1},
    "encoding":{"x":{"field":"t","type":"quantitative","scale":{"domain":[-231,32],"nice":false,"zero":false},"axis":{"orient":"bottom","offset":-56,"values":[-20,-10,0,10,20],"title":"Tilt / deg","titleX":231,"titleY":8.5,"titleBaseline":"middle","titleAlign":"center","labelFontSize":6,"titleFontSize":6,"titleFontWeight":"normal","labelPadding":0.5,"titlePadding":0,"grid":false}},
     "y":{"field":"h","type":"quantitative","scale":{"type":"log","domain":[30,829],"nice":false},"axis":null},
     "color":{"field":"s","type":"nominal","scale":{"domain":["T","U","N","Q","1","2","3","4","5","6"],"range":["#999999","#000000","#e0709a","#c0204a","#ff0000","#0000ff","#1e8c1e","#00a3a3","#ffa500","#ff00ff"]}},
     "shape":{"field":"s","type":"nominal","scale":{"domain":["T","U","N","Q","1","2","3","4","5","6"],"range":["stroke","circle","cross","stroke","square","square","square","square","square","square"]}}}}
  ]},
  {"layer":[
   {"data":{"name":"prof"},"mark":{"type":"line","color":"#b01040","strokeWidth":1.2},
    "encoding":{"x":{"field":"f","type":"quantitative","scale":{"type":"log","domain":[0.75,20.5],"nice":false},"axis":{"orient":"top","values":[1,1.5,2,3,4,5,6,7,8,9,10,12,14,16,18],"labelExpr":"datum.value==9?'':''+datum.value","grid":true,"labelPadding":1.5,"title":null}},
     "y":{"field":"h","type":"quantitative","scale":{"type":"log","domain":[30,829],"nice":false},"axis":{"orient":"left","values":[80,90,100,120,150,200,300,400,600,800],"labelExpr":"''+datum.value","grid":true,"labelPadding":3,"title":"R', R / km","titleX":-23,"titleY":48}},
     "order":{"field":"o","type":"quantitative"}}},
   {"data":{"name":"nx"},"mark":{"type":"line","color":"#e07090","strokeWidth":1,"point":{"shape":"cross","size":12,"filled":true,"color":"#e07090"}},
    "encoding":{"x":{"field":"f","type":"quantitative","scale":{"type":"log","domain":[0.75,20.5],"nice":false}},
     "y":{"field":"h","type":"quantitative","scale":{"type":"log","domain":[30,829],"nice":false}}}},
   {"data":{"name":"hp"},"mark":{"type":"point","filled":true,"size":7,"opacity":1},
    "encoding":{"x":{"field":"f","type":"quantitative","scale":{"type":"log","domain":[0.75,20.5],"nice":false}},
     "y":{"field":"h","type":"quantitative","scale":{"type":"log","domain":[30,829],"nice":false}},
     "color":{"field":"s","type":"nominal","scale":{"domain":["T","U","N","Q","1","2","3","4","5","6"],"range":["#999999","#000000","#e0709a","#c0204a","#ff0000","#0000ff","#1e8c1e","#00a3a3","#ffa500","#ff00ff"]},
      "legend":{"orient":"none","legendX":262,"legendY":-7,"title":null,"labelFontSize":6.5,"symbolSize":18,"symbolStrokeWidth":1.5,"rowPadding":1.5,"labelOffset":2,"labelExpr":"datum.label=='T'?'T60dB':datum.label=='U'?'UnCl':datum.label=='N'?'NeXtYZ':datum.label=='Q'?'Θx–Θy':datum.label=='5'?'\u00a0\u00a05':datum.label=='6'?'◁6':'✱'+datum.label","encode":{"symbols":{"update":{"stroke":{"scale":"color","field":"value"}}}}}},
     "shape":{"field":"s","type":"nominal","scale":{"domain":["T","U","N","Q","1","2","3","4","5","6"],"range":["stroke","circle","cross","stroke","square","square","square","square","square","square"]},
      "legend":{"orient":"none","legendX":262,"legendY":-7,"title":null,"labelFontSize":6.5,"symbolSize":18,"symbolStrokeWidth":1.5,"rowPadding":1.5,"labelOffset":2,"labelExpr":"datum.label=='T'?'T60dB':datum.label=='U'?'UnCl':datum.label=='N'?'NeXtYZ':datum.label=='Q'?'Θx–Θy':datum.label=='5'?'\u00a0\u00a05':datum.label=='6'?'◁6':'✱'+datum.label","encode":{"symbols":{"update":{"stroke":{"scale":"color","field":"value"}}}}}}}},
   {"data":{"name":"lb"},"mark":{"type":"text","font":"DejaVu Sans","fontSize":8,"fontWeight":"bold","color":"#000000"},
    "encoding":{"x":{"field":"f","type":"quantitative","scale":{"type":"log","domain":[0.75,20.5],"nice":false}},
     "y":{"field":"h","type":"quantitative","scale":{"type":"log","domain":[30,829],"nice":false}},
     "text":{"field":"t"}}},
   {"data":{"values":[{}]},"mark":{"type":"rect","fill":"#ffff00","stroke":"#ff0000","strokeWidth":1},
    "encoding":{"x":{"datum":14.11,"type":"quantitative","scale":{"type":"log","domain":[0.75,20.5],"nice":false}},"x2":{"datum":30.67},
     "y":{"datum":1279,"type":"quantitative","scale":{"type":"log","domain":[30,829],"nice":false}},"y2":{"datum":1557}}},
   {"data":{"values":[{}]},"mark":{"type":"text","text":"HPTx is OFF!","font":"DejaVu Sans Mono","fontSize":8,"fontWeight":"bold","color":"#ff0000","baseline":"middle","align":"center"},
    "encoding":{"x":{"datum":20.59,"type":"quantitative","scale":{"type":"log","domain":[0.75,20.5],"nice":false}},
     "y":{"datum":1409,"type":"quantitative","scale":{"type":"log","domain":[30,829],"nice":false}}}}
  ]},
  {"layer":[
   {"data":{"values":[{"db":100},{"db":80},{"db":60},{"db":40}]},"mark":{"type":"rule","color":"#d8d8d8"},
    "encoding":{"x":{"datum":1,"type":"quantitative","scale":{"type":"log","domain":[0.75,20.5],"nice":false}},"x2":{"datum":20.5},
     "y":{"field":"db","type":"quantitative","scale":{"domain":[8,380],"nice":false,"zero":false}}}},
   {"data":{"values":[{"db":20}]},"mark":{"type":"rule","color":"#b0b0e8"},
    "encoding":{"x":{"datum":1,"type":"quantitative","scale":{"type":"log","domain":[0.75,20.5],"nice":false}},"x2":{"datum":20.5},
     "y":{"field":"db","type":"quantitative","scale":{"domain":[8,380],"nice":false,"zero":false}}}},
   {"data":{"name":"tr"},"mark":{"type":"line","color":"#000000","strokeWidth":1.2},
    "encoding":{"x":{"field":"f","type":"quantitative","scale":{"type":"log","domain":[0.75,20.5],"nice":false}},
     "y":{"field":"db","type":"quantitative","scale":{"domain":[8,380],"nice":false,"zero":false}}}},
   {"data":{"name":"am"},"mark":{"type":"point","filled":true,"size":7,"opacity":1},
    "encoding":{"x":{"field":"f","type":"quantitative","scale":{"type":"log","domain":[0.75,20.5],"nice":false},"axis":{"orient":"bottom","values":[1,1.5,2,3,4,5,6,7,8,9,10,12,14,16,18],"labelExpr":"''+datum.value","grid":false,"labelPadding":2.5,"title":null}},
     "y":{"field":"db","type":"quantitative","scale":{"domain":[8,380],"nice":false,"zero":false},"axis":{"orient":"left","offset":-23,"values":[20,40,60,80,100],"labelExpr":"datum.value==80?'dBe 80':datum.value==20?'dBn 20':datum.label","grid":false,"labelPadding":2,"title":null}},
     "color":{"field":"s","type":"nominal","scale":{"domain":["T","U","N","Q","1","2","3","4","5","6"],"range":["#999999","#000000","#e0709a","#c0204a","#ff0000","#0000ff","#1e8c1e","#00a3a3","#ffa500","#ff00ff"]}},
     "shape":{"field":"s","type":"nominal","scale":{"domain":["T","U","N","Q","1","2","3","4","5","6"],"range":["stroke","circle","cross","stroke","square","square","square","square","square","square"]}}}}
  ]}
 ]},
{"width":263,"height":181,
 "resolve":{"scale":{"y":"independent"}},
 "layer":[
  {"data":{"name":"bt"},"transform":[{"filter":"datum.b=='V'"}],"mark":{"type":"point","filled":true,"size":7,"opacity":1},
   "encoding":{"x":{"field":"f","type":"quantitative","scale":{"type":"log","domain":[0.75,20.5],"nice":false},"axis":{"orient":"bottom","values":[1,1.5,2,3,4,5,6,7,8,9,10,12,14,16,18],"labelExpr":"datum.value==9?'':''+datum.value","grid":true,"labelPadding":3,"title":"Radio and Plasma Frequency / MHz","titlePadding":5}},
    "y":{"field":"v","type":"quantitative","scale":{"domain":[-935.6,195.6],"nice":false,"zero":false},"axis":{"orient":"left","values":[100,0,-100],"labelExpr":"datum.value==-100?'+-100':datum.label","grid":true,"labelPadding":3,"title":"V*  m/s","titleX":-26,"titleY":29}},
    "color":{"field":"s","type":"nominal","scale":{"domain":["T","U","N","Q","1","2","3","4","5","6"],"range":["#999999","#000000","#e0709a","#c0204a","#ff0000","#0000ff","#1e8c1e","#00a3a3","#ffa500","#ff00ff"]}},
    "shape":{"field":"s","type":"nominal","scale":{"domain":["T","U","N","Q","1","2","3","4","5","6"],"range":["stroke","circle","cross","stroke","square","square","square","square","square","square"]}}}},
  {"data":{"name":"bt"},"transform":[{"filter":"datum.b=='Y'"}],"mark":{"type":"point","filled":true,"size":7,"opacity":1},
   "encoding":{"x":{"field":"f","type":"quantitative","scale":{"type":"log","domain":[0.75,20.5],"nice":false}},
    "y":{"field":"v","type":"quantitative","scale":{"domain":[-737.5,393.75],"nice":false,"zero":false},"axis":{"orient":"left","values":[0,-100],"labelExpr":"datum.value==-100?'+-100':datum.label","grid":true,"labelPadding":3,"title":"YL","titleX":-26,"titleY":61}},
    "color":{"field":"s","type":"nominal","scale":{"domain":["T","U","N","Q","1","2","3","4","5","6"],"range":["#999999","#000000","#e0709a","#c0204a","#ff0000","#0000ff","#1e8c1e","#00a3a3","#ffa500","#ff00ff"]}},
    "shape":{"field":"s","type":"nominal","scale":{"domain":["T","U","N","Q","1","2","3","4","5","6"],"range":["stroke","circle","cross","stroke","square","square","square","square","square","square"]}}}},
  {"data":{"values":[{}]},"mark":{"type":"rule","opacity":0},
   "encoding":{"y":{"datum":0,"type":"quantitative","scale":{"domain":[-737.5,393.75],"nice":false,"zero":false},"axis":{"orient":"left","values":[0],"labels":false,"grid":false,"title":"km","titleX":-20,"titleY":82,"titleFontSize":6.5,"titleFontWeight":"normal"}}}},
  {"data":{"name":"bt"},"transform":[{"filter":"datum.b=='X'"}],"mark":{"type":"point","filled":true,"size":7,"opacity":1},
   "encoding":{"x":{"field":"f","type":"quantitative","scale":{"type":"log","domain":[0.75,20.5],"nice":false}},
    "y":{"field":"v","type":"quantitative","scale":{"domain":[-535.6,595.6],"nice":false,"zero":false},"axis":{"orient":"left","values":[0,-100],"grid":true,"labelPadding":3,"title":"XL","titleX":-26,"titleY":96}},
    "color":{"field":"s","type":"nominal","scale":{"domain":["T","U","N","Q","1","2","3","4","5","6"],"range":["#999999","#000000","#e0709a","#c0204a","#ff0000","#0000ff","#1e8c1e","#00a3a3","#ffa500","#ff00ff"]}},
    "shape":{"field":"s","type":"nominal","scale":{"domain":["T","U","N","Q","1","2","3","4","5","6"],"range":["stroke","circle","cross","stroke","square","square","square","square","square","square"]}}}},
  {"layer":[
   {"data":{"values":[{"v":90},{"v":-90}]},"mark":{"type":"rule","color":"#7a7a7a","strokeWidth":1},
    "encoding":{"x":{"datum":1,"type":"quantitative","scale":{"type":"log","domain":[0.75,20.5],"nice":false}},"x2":{"datum":20.5},
     "y":{"field":"v","type":"quantitative","scale":{"domain":[-242.5,893],"nice":false,"zero":false}}}},
   {"data":{"name":"bt"},"transform":[{"filter":"datum.b=='P'"}],"mark":{"type":"point","filled":true,"size":7,"opacity":1},
    "encoding":{"x":{"field":"f","type":"quantitative","scale":{"type":"log","domain":[0.75,20.5],"nice":false}},
     "y":{"field":"v","type":"quantitative","scale":{"domain":[-242.5,893],"nice":false,"zero":false},"axis":{"orient":"left","offset":-23,"values":[90,-90],"labelExpr":"datum.value==90?'x\u00a0\u00a090':'o -90'","grid":false,"labelPadding":2,"title":"PP","titleAngle":0,"titleAlign":"center","titleBaseline":"middle","titleX":-15,"titleY":142}},
     "color":{"field":"s","type":"nominal","scale":{"domain":["T","U","N","Q","1","2","3","4","5","6"],"range":["#999999","#000000","#e0709a","#c0204a","#ff0000","#0000ff","#1e8c1e","#00a3a3","#ffa500","#ff00ff"]}},
     "shape":{"field":"s","type":"nominal","scale":{"domain":["T","U","N","Q","1","2","3","4","5","6"],"range":["stroke","circle","cross","stroke","square","square","square","square","square","square"]}}}}
  ]},
  {"data":{"name":"bt"},"transform":[{"filter":"datum.b=='E'"}],"mark":{"type":"point","filled":true,"size":7,"opacity":1},
   "encoding":{"x":{"field":"f","type":"quantitative","scale":{"type":"log","domain":[0.75,20.5],"nice":false}},
    "y":{"field":"v","type":"quantitative","scale":{"type":"log","domain":[0.0189,7.8e41],"nice":false},"axis":{"orient":"left","values":[10,1,0.1],"labelExpr":"datum.value==10?'10.':datum.value==1?'':'0.1'","grid":true,"labelPadding":3,"title":"EP / deg","titleX":-22,"titleY":173}},
    "color":{"field":"s","type":"nominal","scale":{"domain":["T","U","N","Q","1","2","3","4","5","6"],"range":["#999999","#000000","#e0709a","#c0204a","#ff0000","#0000ff","#1e8c1e","#00a3a3","#ffa500","#ff00ff"]}},
    "shape":{"field":"s","type":"nominal","scale":{"domain":["T","U","N","Q","1","2","3","4","5","6"],"range":["stroke","circle","cross","stroke","square","square","square","square","square","square"]}}}}
 ]}
],
"config":{
 "font":"Liberation Sans",
 "view":{"stroke":"#999999","strokeWidth":1},
 "axis":{"labelFont":"Liberation Sans","labelFontSize":7,"labelColor":"#000000","titleFont":"Liberation Sans","titleFontSize":7.5,"titleFontWeight":"bold","titleColor":"#000000","gridColor":"#dddddd","domain":false,"ticks":false,"labelOverlap":false,"labelFlush":false,"labelBound":false},
 "legend":{"labelFont":"Liberation Sans","labelColor":"#000000"}
}
}
